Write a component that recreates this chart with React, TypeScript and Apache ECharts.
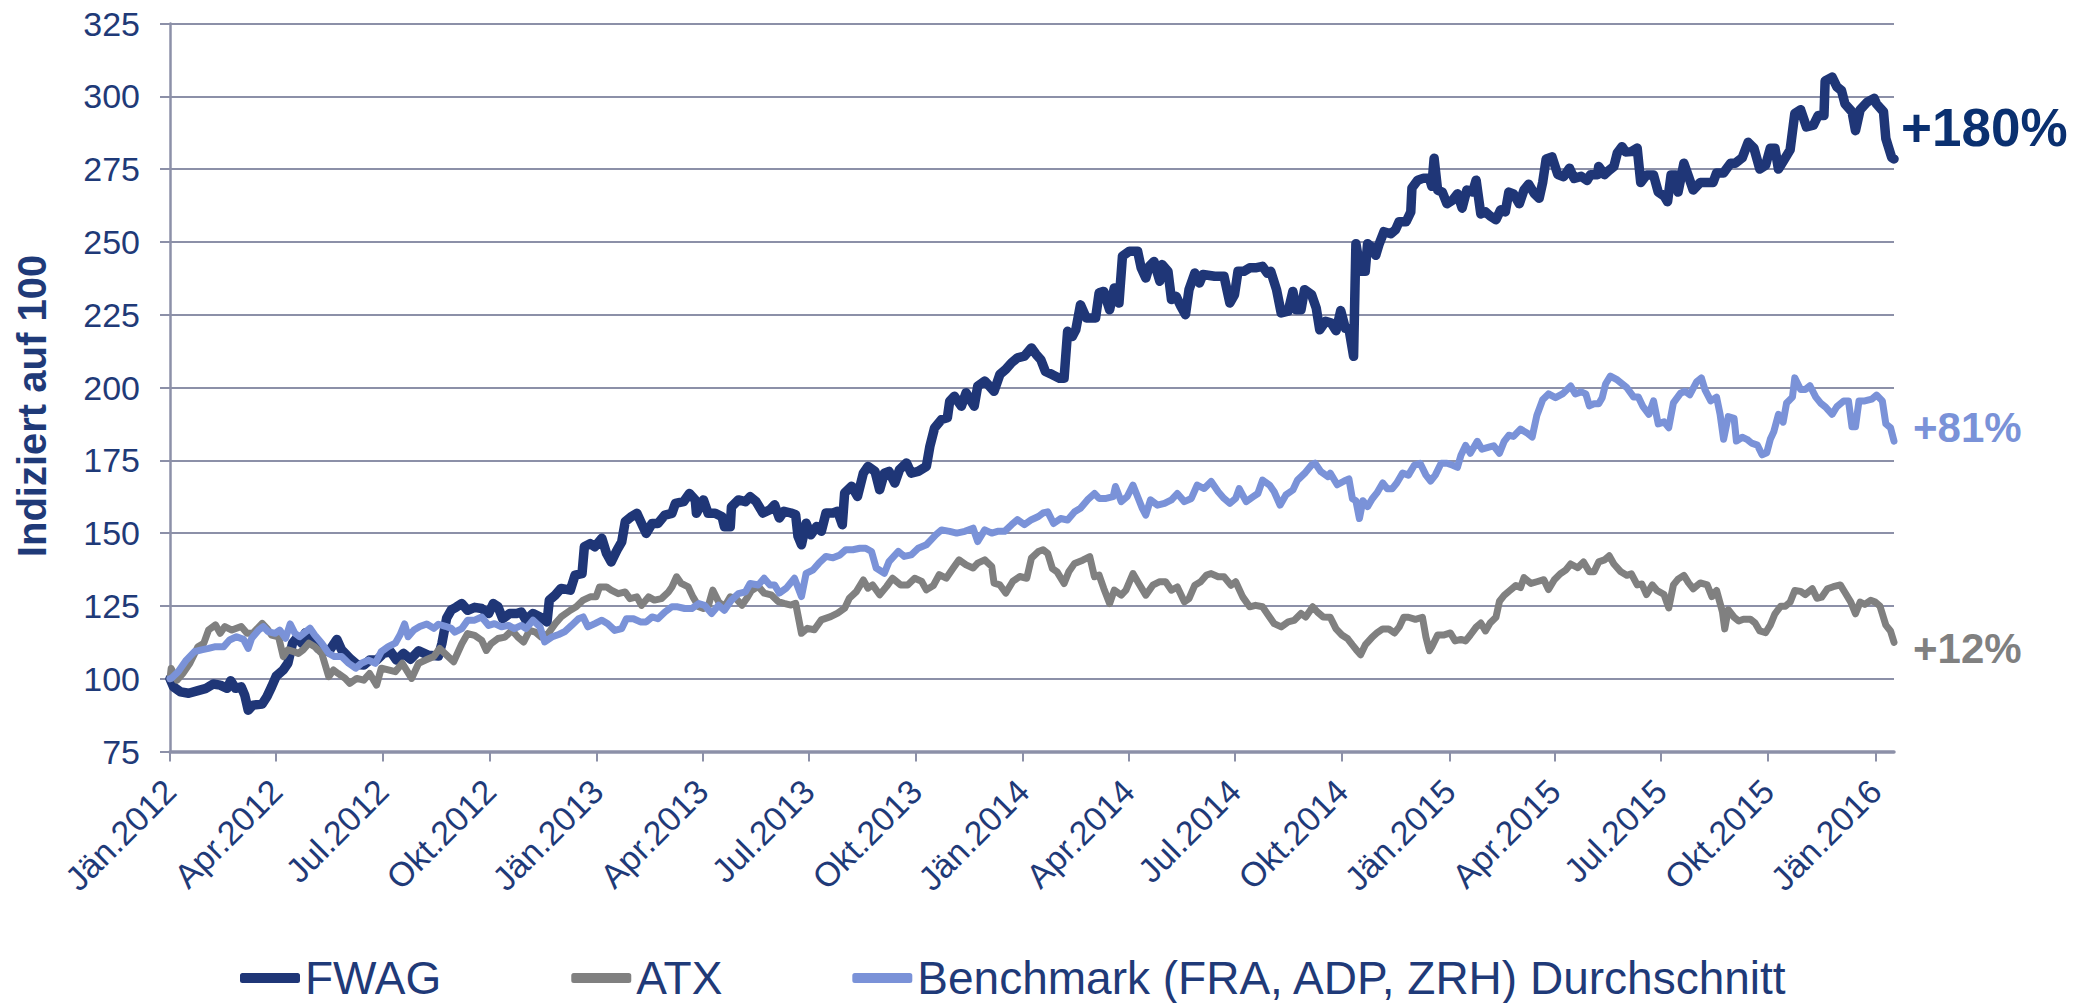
import React, { useEffect, useRef } from "react";
import * as echarts from "echarts";

// x values are days since 2012-01-01
const START = Date.UTC(2012, 0, 1);
const END_DAY = 1477;

const xTickDates = [
  "2012-01-01", "2012-04-01", "2012-07-01", "2012-10-01",
  "2013-01-01", "2013-04-01", "2013-07-01", "2013-10-01",
  "2014-01-01", "2014-04-01", "2014-07-01", "2014-10-01",
  "2015-01-01", "2015-04-01", "2015-07-01", "2015-10-01",
  "2016-01-01",
];
const xTickLabels = [
  "Jän.2012", "Apr.2012", "Jul.2012", "Okt.2012",
  "Jän.2013", "Apr.2013", "Jul.2013", "Okt.2013",
  "Jän.2014", "Apr.2014", "Jul.2014", "Okt.2014",
  "Jän.2015", "Apr.2015", "Jul.2015", "Okt.2015",
  "Jän.2016",
];

const yTicks = { min: 75, max: 325, interval: 25 };

const seriesNames = ["FWAG", "ATX", "Benchmark (FRA, ADP, ZRH) Durchschnitt"];
const endLabels = ["+180%", "+12%", "+81%"];

const FWAG: [number, number][] = [
  [0,100],[3,97.2],[9,95.5],[16,95],[24,95.9],[31,96.7],[37,98.2],[43,97.8],[49,96.7],[52,99.3],[56,96.7],[61,97.2],[64,94.4],[67,89.2],[71,90.9],[79,91.3],[83,93.8],[87,97.2],[91,100.9],[97,103],[101,105.3],[105,112.2],[109,114.2],[113,112.2],[116,115.8],[121,113.9],[127,110.4],[136,109.3],[143,113.5],[147,109.9],[154,107],[160,104.9],[166,104.7],[171,106.4],[177,106.4],[183,108.7],[189,109.3],[194,106.4],[200,108.7],[206,106.7],[213,109.6],[221,108.1],[230,107.8],[233,112.2],[237,120.8],[241,123.6],[245,124.5],[250,125.8],[255,123.5],[261,124.5],[267,124.1],[273,122.4],[277,125.8],[281,124.7],[285,120.6],[291,122.4],[297,122.4],[301,122.9],[305,120.1],[311,122.4],[317,121.2],[323,119.5],[325,127],[330,128.7],[335,131],[343,130.4],[347,135.6],[353,136.1],[355,145.3],[360,146.4],[364,145.3],[370,148.2],[374,143],[378,140.1],[383,144.2],[387,147],[390,153.9],[395,155.6],[400,156.8],[404,153.3],[408,149.9],[413,153.3],[418,153.3],[424,156.2],[430,156.8],[433,160.2],[440,160.8],[445,163.6],[450,161.4],[451,156.8],[457,161.4],[461,156.8],[467,156.8],[473,155.6],[475,152.2],[480,152.2],[481,159],[487,161.4],[493,160.8],[497,162.5],[502,160.9],[508,156.9],[514,158],[518,159.7],[522,155.2],[526,157.5],[532,156.9],[536,156.3],[538,148.9],[541,146],[545,153.4],[549,149.4],[554,152.3],[558,150.6],[562,156.9],[568,156.9],[572,157.5],[576,152.9],[578,163.8],[584,166.1],[589,162.6],[594,170.6],[598,172.9],[604,171.2],[608,164.9],[612,170.6],[616,171.2],[621,167.2],[625,171.8],[631,174.1],[635,170.6],[641,171.2],[648,172.9],[651,179.8],[655,186.1],[661,189],[666,189.6],[668,195.3],[672,197],[678,193.6],[682,198.2],[689,193.6],[692,200.5],[698,202.2],[702,200.5],[706,198.7],[711,204.5],[716,206.2],[721,208.5],[726,210.2],[732,210.8],[738,213.6],[742,211.4],[746,209.6],[750,205.5],[756,204.4],[762,203.2],[766,203.2],[769,219.3],[773,217.5],[776,219.8],[780,228.4],[785,223.9],[789,223.9],[793,223.9],[796,232.5],[800,233],[805,226.7],[809,234.2],[813,229],[816,245.1],[822,246.8],[829,246.8],[832,241.1],[836,237.6],[839,241.6],[843,243.3],[848,236.5],[850,242.2],[855,239.9],[858,230.2],[862,231.3],[866,227.9],[870,225],[873,233.6],[878,239.3],[882,235.9],[885,238.8],[895,238.2],[903,238.2],[908,229],[912,231.9],[915,239.9],[920,239.9],[925,241.1],[930,241.1],[936,241.6],[940,239.3],[943,239.9],[948,233.6],[952,225.6],[958,226.2],[962,233],[965,226.7],[969,226.7],[972,233.6],[978,231.9],[982,227.3],[985,219.8],[990,222.7],[995,222.1],[999,219.5],[1003,226.4],[1007,220.3],[1010,220.3],[1014,210.7],[1016,249.4],[1020,239.9],[1024,239.9],[1026,249.4],[1030,248.1],[1033,245.4],[1036,249.4],[1040,253.5],[1046,252.8],[1050,254.2],[1053,256.9],[1059,256.9],[1063,260.3],[1064,268.5],[1069,271.2],[1074,271.9],[1079,271.9],[1081,269.1],[1083,278.7],[1086,267.8],[1090,267.1],[1094,263.1],[1099,264.4],[1103,266.5],[1107,261.6],[1111,267.8],[1116,267.1],[1119,271.2],[1123,259.6],[1127,260.3],[1131,258.9],[1136,257.6],[1140,261],[1144,260.3],[1147,267.1],[1151,266.5],[1156,263.1],[1160,267.8],[1164,269.8],[1169,266.5],[1173,265],[1176,270.4],[1179,278.5],[1184,279.2],[1189,273.1],[1194,272.4],[1199,275.3],[1203,271.8],[1209,272.5],[1214,271.1],[1217,273.1],[1223,273.1],[1224,275.9],[1229,273.1],[1233,274.6],[1237,275.9],[1240,280.6],[1244,282.7],[1247,280.9],[1252,281],[1257,282.2],[1260,270.4],[1265,273],[1271,273],[1275,267.1],[1280,265.8],[1283,263.8],[1286,273],[1290,273],[1292,267.1],[1297,277],[1301,272.4],[1305,267.8],[1311,270.4],[1317,270.4],[1322,270.4],[1325,273.7],[1331,273.7],[1337,277],[1341,277],[1347,278.9],[1352,284.2],[1357,282.2],[1362,275],[1367,276.3],[1371,282.2],[1375,282.2],[1378,275],[1382,277.6],[1388,281.6],[1392,294.1],[1397,295.4],[1402,289.5],[1408,290.1],[1412,293.4],[1417,293.4],[1418,305.3],[1424,306.6],[1428,303.3],[1432,302],[1435,297.4],[1441,294.7],[1444,288.2],[1448,295.4],[1454,298],[1460,299.3],[1462,297.4],[1468,294.7],[1470,285.5],[1472,282.9],[1475,279],[1477,278.5],
];

const ATX: [number, number][] = [
  [0,100],[1,103.5],[6,99.5],[11,101.8],[17,105.3],[24,111],[29,112.2],[33,116.7],[39,118.5],[43,115.6],[47,117.9],[53,116.7],[57,117.3],[61,117.9],[66,115.6],[71,115.6],[79,119],[83,117.3],[87,115],[93,114.4],[97,107.6],[101,109.9],[106,109.3],[110,108.7],[114,109.9],[119,112.2],[124,111],[130,108.7],[136,100.7],[140,103],[144,101.8],[150,100.1],[154,98.4],[160,100.1],[166,99.5],[171,101.8],[177,97.8],[181,103.6],[187,103],[193,102.4],[199,105.3],[207,100.1],[213,105.3],[219,106.4],[226,107.6],[231,110.4],[237,108.1],[243,105.8],[250,112],[255,115.5],[261,114.9],[267,113.2],[271,109.7],[275,112],[281,113.8],[287,114.3],[293,116.6],[298,114.3],[303,112.6],[308,116.6],[313,116],[318,114.3],[324,115.5],[330,118.9],[335,121.2],[343,123.5],[348,124.7],[354,127],[360,128.1],[365,128.1],[368,131.5],[374,131.5],[378,130.4],[384,129.2],[390,129.8],[394,127.5],[400,128.1],[404,125.2],[410,128.1],[415,127],[421,127.5],[427,129.8],[430,131.5],[434,135],[438,132.7],[444,131.5],[448,128.1],[453,124.7],[457,124.1],[461,124.7],[465,130.4],[470,126.4],[475,124.7],[480,128.1],[485,127.5],[490,125.2],[494,127.5],[498,130.2],[504,131.7],[509,129.4],[515,128.8],[521,126.5],[526,125.9],[532,125.3],[536,125.9],[541,115.6],[546,117.3],[552,116.8],[558,120.2],[566,121.3],[572,122.5],[578,124.2],[582,127.6],[588,129.9],[594,133.9],[598,131.1],[602,132.2],[608,128.8],[614,131.7],[619,134.5],[626,132.2],[632,132.2],[638,134.5],[644,133.4],[648,130.5],[654,132],[659,135.7],[665,134.5],[671,138],[676,140.8],[682,139.1],[688,138],[692,139.7],[698,140.8],[704,138.5],[706,132.8],[711,132.2],[716,129.4],[722,133.4],[728,135.1],[734,134.5],[738,141.4],[744,143.7],[748,144.3],[752,143],[756,137.8],[760,136.7],[766,132.7],[770,136.7],[775,139.6],[782,140.7],[788,141.9],[792,135],[796,135.6],[800,131],[805,125.8],[809,130.4],[815,128.7],[819,130.4],[825,136.1],[830,132.7],[836,128.7],[842,132.1],[848,133.3],[853,133.3],[858,130.4],[863,131.5],[869,126.4],[873,127.5],[878,132.1],[883,133.3],[888,135.6],[892,136.1],[898,135],[903,135],[909,132.1],[913,133.3],[919,128.1],[925,124.7],[930,125.2],[936,124.7],[942,121.2],[946,118.9],[952,117.8],[958,119.5],[963,120],[969,122.4],[973,121.2],[979,124.7],[983,122.9],[988,121.2],[994,121.1],[999,117.1],[1004,115],[1009,113.7],[1013,111.6],[1017,109.6],[1020,108.2],[1024,111.6],[1030,114.3],[1034,115.7],[1039,117.1],[1044,117.1],[1049,115.7],[1053,117.7],[1057,121.1],[1061,121.1],[1067,120.4],[1073,121.1],[1076,114.3],[1079,109.6],[1081,110.9],[1086,115],[1091,115],[1097,115.7],[1101,113],[1106,113.5],[1110,113],[1114,115],[1119,117.7],[1123,119.1],[1127,116.4],[1131,119.1],[1136,121.1],[1139,126.6],[1143,128.6],[1147,130],[1153,132],[1157,131.3],[1160,134.7],[1166,132.7],[1171,133.3],[1177,134],[1181,130.6],[1186,134],[1191,136],[1196,137.4],[1200,139.4],[1206,138.1],[1211,140.1],[1216,136.7],[1220,136.7],[1224,140.1],[1229,140.8],[1233,142.2],[1237,139.4],[1243,136.7],[1248,135.5],[1252,136],[1257,132.2],[1261,132.5],[1265,128.9],[1270,132.2],[1274,130.3],[1280,128.9],[1284,124.3],[1288,132.2],[1292,134.2],[1297,135.5],[1301,132.9],[1305,130.9],[1311,132.9],[1317,132.2],[1321,128.2],[1325,130.3],[1330,123],[1332,117.1],[1335,123.7],[1340,121.1],[1344,119.8],[1348,120.4],[1354,120.4],[1358,119.1],[1362,116.4],[1367,115.8],[1371,118.4],[1375,122.3],[1380,124.9],[1384,124.9],[1388,126.3],[1392,130.3],[1397,130],[1401,128.9],[1407,130.9],[1411,127.6],[1415,128],[1420,130.9],[1425,131.6],[1431,132.2],[1435,129.6],[1440,126.3],[1444,122.3],[1448,126.3],[1452,125.5],[1457,126.9],[1461,126.3],[1465,124.9],[1470,118.4],[1474,116.4],[1477,112.5],
];

const BENCH: [number, number][] = [
  [0,100],[1,100.1],[7,102.4],[14,106.4],[21,109.3],[27,109.9],[33,110.4],[39,111],[46,111],[51,113.3],[57,114.4],[63,113.5],[67,110.4],[70,113.9],[76,116.7],[80,117.9],[84,116.2],[90,115.6],[94,116.7],[99,113.9],[103,118.8],[107,115.6],[111,114.4],[116,116],[120,117.3],[124,115],[130,112.2],[136,108.7],[141,107.6],[147,107.6],[153,105.3],[159,103.6],[164,105.3],[170,106.4],[176,105.3],[181,109.3],[187,111],[193,112.2],[197,115],[201,118.8],[204,114.4],[209,116.7],[214,117.9],[220,118.8],[226,117.3],[230,118.7],[236,118],[241,117.3],[244,116],[250,117.2],[255,120.1],[261,120.1],[267,121.2],[273,118.3],[278,118.9],[284,117.8],[290,118.3],[295,117.2],[301,118.3],[305,117.2],[311,120.1],[317,117.8],[321,112.6],[327,114.3],[333,115.2],[338,116.1],[344,118.3],[350,120.6],[354,121.2],[358,117.8],[364,118.9],[370,120.1],[375,118.9],[381,116.6],[387,117.2],[391,120.6],[397,120.6],[403,119.5],[408,119.5],[413,121.2],[418,120.6],[424,122.9],[430,124.7],[435,124.7],[441,124.1],[447,124.1],[453,125.8],[458,125.2],[464,122.4],[470,125.2],[475,123.5],[481,127],[487,129.2],[493,129.8],[497,132.7],[504,132.2],[509,134.5],[514,132.2],[518,132.2],[522,129.4],[528,131.1],[535,134.5],[541,128.2],[545,136.2],[551,137.4],[556,139.7],[562,142],[568,141.5],[574,142.5],[579,144.3],[585,144.3],[591,144.8],[596,144.8],[601,143.7],[605,138],[612,136.2],[616,140.2],[624,143.7],[629,142],[635,142.5],[641,144.8],[648,146],[652,147.7],[656,149.4],[661,151.1],[668,150.6],[674,150],[681,150.6],[688,151.7],[692,147.1],[698,151.1],[704,150],[709,150.6],[715,150.6],[721,152.9],[726,154.6],[732,152.9],[738,154.6],[744,155.7],[748,156.9],[752,157.3],[757,153.3],[763,155],[769,154.5],[775,157.3],[780,158.5],[786,161.4],[792,163.6],[796,161.9],[802,161.9],[808,162.5],[810,166],[815,160.8],[820,162.5],[825,166.5],[829,162.5],[833,158.5],[836,156.2],[840,161.4],[846,159.6],[852,160.2],[858,161.4],[863,163.6],[869,160.8],[875,161.9],[880,166.5],[886,165.3],[892,167.7],[898,164.2],[903,161.9],[908,160.2],[913,161.9],[916,165.3],[922,160.8],[928,162.5],[932,163.6],[936,168.2],[942,166.5],[946,164.2],[951,159.6],[956,163.1],[962,164.8],[966,168.2],[972,170.5],[978,173.4],[981,174],[986,171.1],[992,169.4],[994,170.6],[1000,166.6],[1006,167.9],[1010,168.6],[1013,161.8],[1016,161.1],[1019,155],[1022,161.1],[1026,159.1],[1030,161.8],[1034,163.8],[1039,167.2],[1043,165.2],[1047,165.2],[1051,167.2],[1056,170.6],[1061,169.9],[1066,173.3],[1071,174],[1076,169.9],[1080,167.9],[1084,169.9],[1089,174],[1094,174],[1099,173.3],[1103,172.6],[1106,176.7],[1110,180.1],[1114,177.4],[1120,181.5],[1124,178.8],[1130,179.5],[1134,180],[1139,177.4],[1143,181.5],[1147,183.6],[1151,183.2],[1157,185.7],[1163,184.3],[1167,183],[1171,190.4],[1176,195.8],[1181,197.8],[1187,196.5],[1193,197.8],[1200,200.5],[1204,197.8],[1209,198.5],[1213,197.8],[1216,193.7],[1220,194.4],[1224,194.4],[1227,196.5],[1230,201.3],[1234,203.9],[1240,202.6],[1248,200],[1254,196.7],[1258,196.7],[1262,193.4],[1267,190.8],[1271,195.4],[1275,187.5],[1280,188.2],[1284,186.2],[1288,194.7],[1294,198],[1298,198.7],[1302,197.5],[1308,202],[1312,203.3],[1315,199.3],[1320,195.4],[1325,196.7],[1328,190.8],[1331,182.2],[1335,190],[1340,189.4],[1342,181.6],[1347,182.9],[1351,182.2],[1355,180.9],[1360,180.2],[1364,176.9],[1368,177.6],[1371,182.2],[1374,184.8],[1378,190.8],[1382,188.1],[1385,194.7],[1390,196.7],[1392,203.3],[1397,199.3],[1401,199.3],[1405,200.6],[1410,196.7],[1414,194.7],[1418,193.4],[1424,190.8],[1428,193.4],[1434,195.4],[1438,195.4],[1441,186.5],[1444,186.5],[1447,195.4],[1452,195.4],[1458,196],[1462,197.4],[1467,195.4],[1470,187.5],[1474,186.2],[1477,181.6],
];

const NAVY = "#1F3677";
const GRAY = "#808080";
const LIGHT = "#7A92D8";
const TEXT = "#1F3A78";
const AXIS = "#8C90A8";
const FONT = "'Liberation Sans', Arial, Helvetica, sans-serif";

export default function App() {
  const ref = useRef<HTMLDivElement>(null);

  useEffect(() => {
    if (!ref.current) return;
    const chart = echarts.init(ref.current, undefined, { renderer: "svg" });

    const tickDays = xTickDates.map((d) => {
      const [y, m, dd] = d.split("-").map(Number);
      return Math.round((Date.UTC(y, m - 1, dd) - START) / 86400000);
    });
    const labelFor = (v: number) => {
      const i = tickDays.indexOf(Math.round(v));
      return i >= 0 ? xTickLabels[i] : "";
    };

    const option: any = {
      animation: false,
      grid: {
        left: 170,
        right: 193,
        top: 23.5,
        bottom: 251.5,
        containLabel: false,
        outerBoundsMode: "none",
      },
      xAxis: {
        type: "value",
        min: 0,
        max: END_DAY,
        axisLine: { show: true, onZero: false, lineStyle: { color: AXIS, width: 3.5 } },
        axisTick: {
          show: true,
          customValues: tickDays,
          length: 10,
          lineStyle: { color: AXIS, width: 2 },
        },
        axisLabel: {
          customValues: tickDays,
          formatter: (v: number) => labelFor(v),
          rotate: 45,
          margin: 34,
          fontSize: 34,
          fontFamily: FONT,
          color: TEXT,
        },
        splitLine: { show: false },
      },
      yAxis: {
        type: "value",
        min: yTicks.min,
        max: yTicks.max,
        interval: yTicks.interval,
        axisLine: { show: true, lineStyle: { color: AXIS, width: 2.5 } },
        axisTick: { show: true, length: 10, lineStyle: { color: AXIS, width: 2 } },
        axisLabel: {
          margin: 30,
          fontSize: 34,
          fontFamily: FONT,
          color: TEXT,
        },
        splitLine: { show: true, lineStyle: { color: AXIS, width: 2 } },
      },
      legend: {
        show: true,
        left: 235,
        top: 950,
        itemWidth: 60,
        itemHeight: 10,
        itemGap: 130,
        icon: "roundRect",
        textStyle: { fontSize: 46, fontFamily: FONT, color: TEXT },
        data: seriesNames,
      },
      series: [
        {
          name: seriesNames[0],
          type: "line",
          data: FWAG,
          showSymbol: false,
          lineStyle: { color: NAVY, width: 9.5, join: "round", cap: "round" },
          itemStyle: { color: NAVY },
          z: 2,
        },
        {
          name: seriesNames[1],
          type: "line",
          data: ATX,
          showSymbol: false,
          lineStyle: { color: GRAY, width: 7, join: "round", cap: "round" },
          itemStyle: { color: GRAY },
          z: 3,
        },
        {
          name: seriesNames[2],
          type: "line",
          data: BENCH,
          showSymbol: false,
          lineStyle: { color: LIGHT, width: 7, join: "round", cap: "round" },
          itemStyle: { color: LIGHT },
          z: 4,
        },
      ],
      graphic: [
        {
          type: "text",
          x: 32,
          y: 406,
          rotation: Math.PI / 2,
          style: {
            text: "Indiziert auf 100",
            fontSize: 40,
            fontWeight: "bold",
            fontFamily: FONT,
            fill: TEXT,
            textAlign: "center",
            textVerticalAlign: "middle",
          },
        },
        {
          type: "text",
          x: 1901,
          y: 127,
          style: {
            text: endLabels[0],
            fontSize: 53,
            fontWeight: "bold",
            fontFamily: FONT,
            fill: "#0A3070",
            textAlign: "left",
            textVerticalAlign: "middle",
          },
        },
        {
          type: "text",
          x: 1913,
          y: 427,
          style: {
            text: endLabels[2],
            fontSize: 42,
            fontWeight: "bold",
            fontFamily: FONT,
            fill: LIGHT,
            textAlign: "left",
            textVerticalAlign: "middle",
          },
        },
        {
          type: "text",
          x: 1913,
          y: 648,
          style: {
            text: endLabels[1],
            fontSize: 42,
            fontWeight: "bold",
            fontFamily: FONT,
            fill: GRAY,
            textAlign: "left",
            textVerticalAlign: "middle",
          },
        },
      ],
    };

    chart.setOption(option);
    return () => chart.dispose();
  }, []);

  return (
    <div
      ref={ref}
      style={{ position: "fixed", left: 0, top: 0, width: 2087, height: 1003, background: "#fff" }}
    />
  );
}
